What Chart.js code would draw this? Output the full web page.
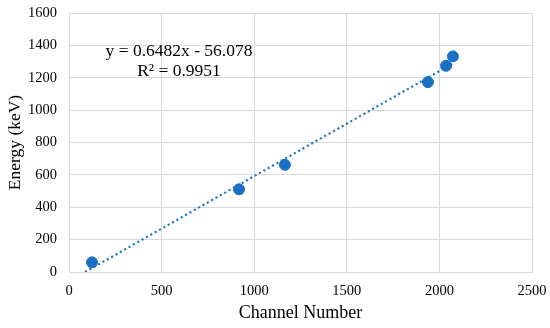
<!DOCTYPE html>
<html>
<head>
<meta charset="utf-8">
<script src="https://cdn.jsdelivr.net/npm/chart.js@4"></script>
<style>
  html, body { margin: 0; padding: 0; background: #fff; }
  #wrap { width: 550px; height: 328px; }
</style>
</head>
<body>
<div id="wrap"><canvas id="calChart"></canvas></div>
<script>
// measured calibration points
const channels = [124, 918, 1166, 1938, 2036, 2073];
const energies = [59.5, 511, 662, 1173, 1274, 1332];

// trend line ends
const trendX = [87, 2073];
const trendY = [0, 1288];

const equationText = 'y = 0.6482x - 56.078';
const rSquaredText = 'R² = 0.9951';

const xTicks = [0, 500, 1000, 1500, 2000, 2500];
const yTicks = [0, 200, 400, 600, 800, 1000, 1200, 1400, 1600];

const blue = '#1b6fc4';
const gridGray = '#d9d9d9';
const serif = "'Liberation Serif', 'Times New Roman', serif";

const pointData = channels.map((c, i) => ({ x: c, y: energies[i] }));
const trendData = trendX.map((x, i) => ({ x: x, y: trendY[i] }));

// draws the fitted equation inside the plot
const equationLabel = {
  id: 'equationLabel',
  afterDraw(chart) {
    const ctx = chart.ctx;
    ctx.save();
    ctx.fillStyle = '#000';
    ctx.font = '17.5px ' + serif;
    ctx.textAlign = 'center';
    ctx.textBaseline = 'middle';
    ctx.fillText(equationText, 179, 51);
    ctx.fillText(rSquaredText, 179, 71);
    ctx.restore();
  }
};

new Chart(document.getElementById('calChart'), {
  type: 'scatter',
  data: {
    datasets: [
      {
        label: 'Trend',
        data: trendData,
        showLine: true,
        borderColor: blue,
        borderWidth: 2.2,
        borderDash: [2, 3],
        pointRadius: 0,
        fill: false
      },
      {
        label: 'Energy',
        data: pointData,
        backgroundColor: blue,
        borderColor: blue,
        pointRadius: 5.5,
        pointHoverRadius: 5.5
      }
    ]
  },
  options: {
    responsive: true,
    maintainAspectRatio: false,
    animation: false,
    layout: { padding: { top: 13, right: 18, left: 0, bottom: 0 } },
    plugins: {
      legend: { display: false },
      tooltip: { enabled: false }
    },
    scales: {
      x: {
        type: 'linear',
        min: 0,
        max: 2500,
        afterBuildTicks: (s) => { s.ticks = xTicks.map(v => ({ value: v })); },
        afterFit: (s) => { s.height = 56; },
        // invisible tick marks give the label gap without extra padding
        grid: { color: gridGray, drawTicks: true, tickLength: 10, tickColor: 'rgba(0,0,0,0)', lineWidth: 1 },
        border: { color: gridGray, width: 1 },
        ticks: {
          color: '#000',
          padding: 0,
          font: { family: serif, size: 14.5 },
          callback: (v) => String(v)
        },
        title: {
          display: true,
          text: 'Channel Number',
          color: '#000',
          padding: { top: 2, bottom: 4 },
          font: { family: serif, size: 18 }
        }
      },
      y: {
        type: 'linear',
        min: 0,
        max: 1600,
        afterBuildTicks: (s) => { s.ticks = yTicks.map(v => ({ value: v })); },
        afterFit: (s) => { s.width = 69; },
        grid: { color: gridGray, drawTicks: true, tickLength: 12, tickColor: 'rgba(0,0,0,0)', lineWidth: 1 },
        border: { color: gridGray, width: 1 },
        ticks: {
          color: '#000',
          padding: 0,
          font: { family: serif, size: 14.5 },
          callback: (v) => String(v)
        },
        title: {
          display: true,
          text: 'Energy (keV)',
          color: '#000',
          padding: { top: 5, bottom: 0 },
          font: { family: serif, size: 17.5 }
        }
      }
    }
  },
  plugins: [equationLabel]
});
</script>
</body>
</html>
